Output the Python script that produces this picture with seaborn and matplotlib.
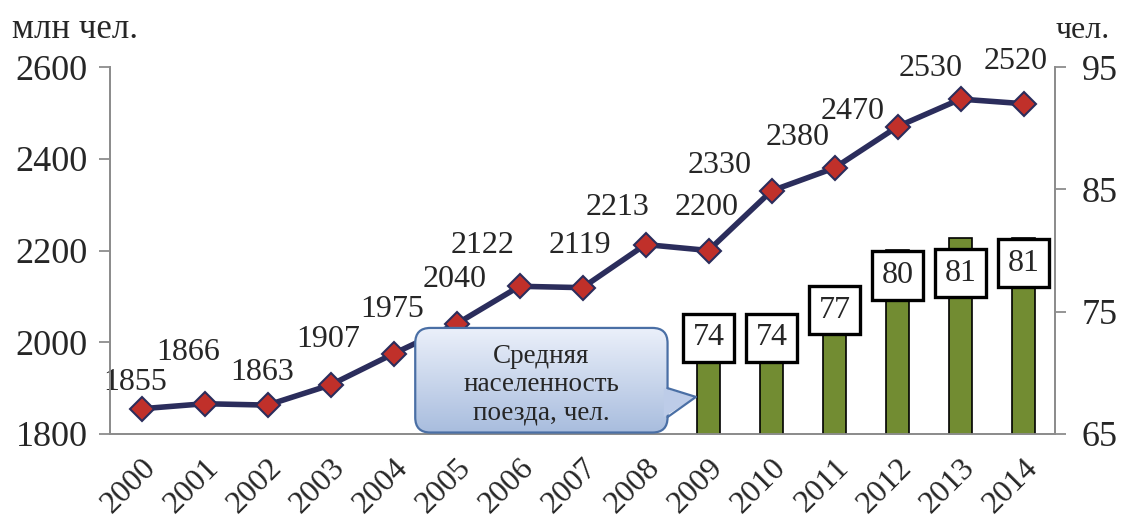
import numpy as np
import pandas as pd
import matplotlib
matplotlib.use('Agg')
import matplotlib.pyplot as plt
import seaborn as sns
from matplotlib.patches import FancyBboxPatch, Polygon
from matplotlib.lines import Line2D

# ---------------------------------------------------------
# DATA
# ---------------------------------------------------------
years = ['2000', '2001', '2002', '2003', '2004', '2005', '2006', '2007',
         '2008', '2009', '2010', '2011', '2012', '2013', '2014']
passengers = [1855, 1866, 1863, 1907, 1975, 2040, 2122, 2119,
              2213, 2200, 2330, 2380, 2470, 2530, 2520]   # млн чел.
bar_years = ['2009', '2010', '2011', '2012', '2013', '2014']
occupancy = [74, 74, 77, 80, 81, 81]                       # чел.

left_ticks = [1800, 2000, 2200, 2400, 2600]
right_ticks = [65, 75, 85, 95]

# label offsets (pixels) - to mimic the original placement
line_lbl_off = [(-6, 26), (-16, 51), (-5, 33), (-2, 45), (-1, 44), (-2, 44),
                (-37, 41), (-3, 42), (-28, 37), (-2, 43), (-52, 25), (-37, 30),
                (-45, 15), (-30, 31), (-8, 42)]
bar_lbl_off = [-14, -14, -23, -25, -35, -25]

# ---------------------------------------------------------
# STYLE
# ---------------------------------------------------------
sns.set_style("white")
plt.rcParams['font.family'] = ['Liberation Serif', 'DejaVu Serif']
LINE_C = '#2B2D5C'
MARK_C = '#C0302A'
BAR_C = '#728C32'
AX_C = '#8C8C8C'

fig = plt.figure(figsize=(11.21, 5.31), dpi=100)
ax = fig.add_axes([110 / 1121, 1 - 434 / 531, 945 / 1121, 367 / 531])
ax2 = ax.twinx()

# ---------------------------------------------------------
# BARS (right axis)
# ---------------------------------------------------------
bars = pd.DataFrame({'year': bar_years, 'occ': occupancy})
sns.barplot(data=bars, x='year', y='occ', order=years, ax=ax2,
            color=BAR_C, width=0.38, edgecolor='black', linewidth=1.2,
            saturation=1, errorbar=None)
ax2.set_ylim(65, 95)

for yr, val, off in zip(bar_years, occupancy, bar_lbl_off):
    ax2.annotate(str(val), (years.index(yr), val), xytext=(0, off),
                 textcoords='offset pixels', ha='center', va='center',
                 fontsize=23, zorder=6,
                 bbox=dict(boxstyle='square,pad=0.3', fc='white', ec='black', lw=2.4))

# ---------------------------------------------------------
# LINE (left axis)
# ---------------------------------------------------------
sns.lineplot(x=np.arange(len(years)), y=passengers, ax=ax, color=LINE_C,
             linewidth=4, marker='D', markersize=12, markerfacecolor=MARK_C,
             markeredgecolor=LINE_C, markeredgewidth=1.5)
ax.set_ylim(1800, 2600)

for i, (val, off) in enumerate(zip(passengers, line_lbl_off)):
    ax.annotate(str(val), (i, val), xytext=off, textcoords='offset pixels',
                ha='center', va='center', fontsize=23)

# ---------------------------------------------------------
# CALLOUT
# ---------------------------------------------------------
x0, x1, y0, y1 = 0.323, 0.590, 0.004, 0.289
box = FancyBboxPatch((x0, y0), x1 - x0, y1 - y0,
                     boxstyle='round,pad=0,rounding_size=0.016',
                     mutation_aspect=945 / 367, transform=ax2.transAxes,
                     fc='none', ec='#4A6FA5', lw=1.6, zorder=8, clip_on=False)
ax2.add_patch(box)
grad = np.linspace(0, 1, 100)[:, None, None] * (np.array([0.66, 0.74, 0.87]) - np.array([0.92, 0.94, 0.98])) \
    + np.array([0.92, 0.94, 0.98])
im = ax2.imshow(grad, extent=[x0, x1, y0, y1], transform=ax2.transAxes,
                aspect='auto', zorder=7, interpolation='bilinear')
im.set_clip_path(box)
tip = [(x1 - 0.004, 0.125), (0.620, 0.101), (x1 - 0.004, 0.046)]
ax2.add_patch(Polygon(tip, closed=True, transform=ax2.transAxes,
                      fc=(0.74, 0.80, 0.91), ec='none', zorder=8.5, clip_on=False))
ax2.add_line(Line2D([x1, 0.620, x1], [0.125, 0.101, 0.046], transform=ax2.transAxes,
                    color='#4A6FA5', lw=1.6, zorder=9))
ax2.text((x0 + x1) / 2, 0.134, 'Средняя\nнаселенность\nпоезда, чел.',
         transform=ax2.transAxes, ha='center', va='center', fontsize=19.5,
         linespacing=1.15, zorder=10)

# ---------------------------------------------------------
# AXES
# ---------------------------------------------------------
ax.set_xlim(-0.5, len(years) - 0.5)
ax.set_xticks(np.arange(len(years)))
ax.set_xticklabels(years, rotation=45, ha='right', rotation_mode='anchor', fontsize=23)
ax.set_xticks(np.arange(-0.5, len(years)), minor=True)
ax.tick_params(axis='x', which='major', length=0, pad=14)
ax.tick_params(axis='x', which='minor', length=9, width=1.3, color=AX_C, direction='out')
ax.set_yticks(left_ticks)
ax.tick_params(axis='y', length=8, width=1.3, color=AX_C, labelsize=26, pad=8)
ax2.set_yticks(right_ticks)
ax2.tick_params(axis='y', length=8, width=1.3, color=AX_C, labelsize=26, pad=11)
ax2.set_xlabel('')
ax2.set_ylabel('')
ax.set_xlabel('')
ax.set_ylabel('')
ax2.tick_params(axis='x', which='both', length=0, labelbottom=False)

for a in (ax, ax2):
    a.spines['top'].set_visible(False)
    for s in ('left', 'right', 'bottom'):
        a.spines[s].set_color(AX_C)
        a.spines[s].set_linewidth(1.3)
    a.grid(False)
    a.patch.set_visible(False)

fig.text(12 / 1121, 1 - 29 / 531, 'млн чел.', fontsize=25, ha='left', va='center')
fig.text(1110 / 1121, 1 - 31 / 531, 'чел.', fontsize=23, ha='right', va='center')

plt.savefig('out.png', dpi=100)
